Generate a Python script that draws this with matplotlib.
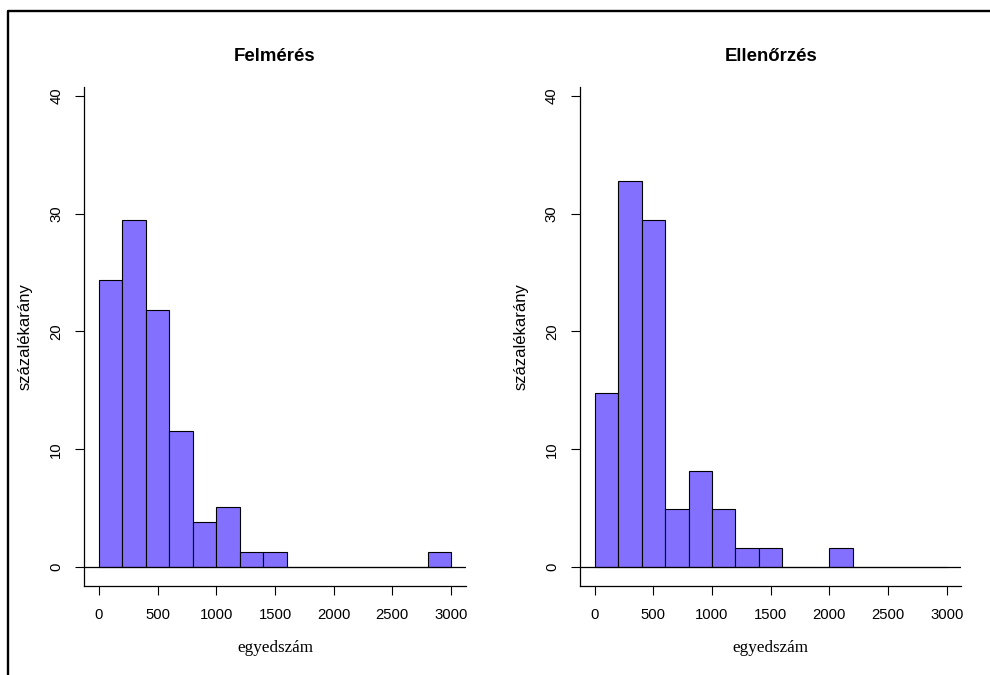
import numpy as np
import matplotlib
matplotlib.use("Agg")
import matplotlib.pyplot as plt
from matplotlib.lines import Line2D

# bin edges (egyedszám) and counts per bin for the two surveys
bin_edges = np.arange(0, 3001, 200)
felmeres_counts = [19, 23, 17, 9, 3, 4, 1, 1, 0, 0, 0, 0, 0, 0, 1]
ellenorzes_counts = [9, 20, 18, 3, 5, 3, 1, 1, 0, 0, 1, 0, 0, 0, 0]

panel_titles = ["Felmérés", "Ellenőrzés"]
x_ticks = [0, 500, 1000, 1500, 2000, 2500, 3000]
y_ticks = [0, 10, 20, 30, 40]

SANS = "Liberation Sans"
SERIF = "Liberation Serif"
BAR_COLOR = "#8470FF"

W, H = 990, 675
fig = plt.figure(figsize=(W / 100, H / 100), dpi=100)
fig.patch.set_facecolor("white")


def px_rect(x0, y_top, x1, y_bot):
    return [x0 / W, 1 - y_bot / H, (x1 - x0) / W, (y_bot - y_top) / H]


axes_boxes = [px_rect(84.3, 87, 465.7, 586), px_rect(580, 87, 961.4, 586)]

for box, title, counts in zip(axes_boxes, panel_titles, [felmeres_counts, ellenorzes_counts]):
    ax = fig.add_axes(box)
    counts = np.asarray(counts, dtype=float)
    pct = counts / counts.sum() * 100

    ax.bar(bin_edges[:-1], pct, width=np.diff(bin_edges), align="edge",
           color=BAR_COLOR, edgecolor="black", linewidth=0.8, zorder=2)
    ax.axhline(0, color="black", linewidth=0.9, zorder=3)

    ax.set_xlim(-125, 3125)
    ax.set_ylim(-1.61, 40.76)

    for side in ("top", "right"):
        ax.spines[side].set_visible(False)
    for side in ("left", "bottom"):
        ax.spines[side].set_linewidth(0.9)

    ax.set_xticks(x_ticks)
    ax.set_xticklabels([str(t) for t in x_ticks], fontsize=10.7, family=SANS)
    ax.set_yticks(y_ticks)
    ax.set_yticklabels([str(t) for t in y_ticks], fontsize=10.7, family=SANS,
                       rotation=90, va="center")
    ax.tick_params(axis="x", length=6.5, width=0.8, pad=9.5)
    ax.tick_params(axis="y", length=6.2, width=0.8, pad=9.0)

    ax.set_title(title, fontsize=13.4, fontweight="bold", family=SANS, pad=19)
    ax.set_ylabel("százalékarány", fontsize=12, family=SANS)
    ax.yaxis.label.set_va("center")
    ax.yaxis.set_label_coords(-0.155, 0.5)
    ax.text(0.5, -(648 - 586) / (586 - 87), "egyedszám", transform=ax.transAxes,
            ha="center", va="center", fontsize=12.3, family=SERIF)

# outer frame running off the right and bottom edges
fig.add_artist(Line2D([8.3 / W, 8.3 / W, 1.0], [0.0, 1 - 11 / H, 1 - 11 / H],
                      transform=fig.transFigure, color="black", linewidth=1.7))

fig.savefig("out.png", dpi=100)
